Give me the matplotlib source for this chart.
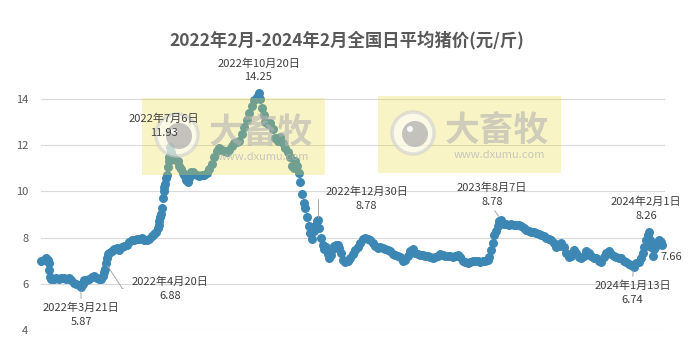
import pandas as pd
import matplotlib.pyplot as plt
from matplotlib.patches import Rectangle, Circle
from matplotlib.transforms import Affine2D

# === Schrift ===
plt.rcParams['font.family'] = ['Noto Sans CJK SC', 'DejaVu Sans']

# === Daten (Tage ab 2022-02-01, Preis in 元/斤) ===
start = pd.Timestamp('2022-02-01')
days = [0, 3, 6, 8, 9, 10, 11, 12, 15, 18, 21, 24, 27, 30, 33, 36, 39, 42, 45, 48,
        50, 52, 55, 58, 61, 64, 67, 70, 72, 74, 76, 77, 78, 79, 80, 82, 85, 88, 91, 94,
        97, 100, 103, 106, 109, 112, 115, 118, 121, 124, 127, 130, 133, 136, 138, 140,
        141, 142, 143, 144, 145, 146, 147, 148, 149, 150, 151, 152, 153, 154, 155, 156,
        158, 160, 162, 164, 166, 168, 170, 172, 174, 176, 178, 180, 182, 184, 187, 190,
        193, 196, 199, 202, 205, 208, 211, 214, 217, 220, 223, 226, 229, 232, 235, 238,
        241, 244, 247, 250, 253, 256, 259, 261, 263, 265, 267, 269, 272, 275, 278, 281,
        284, 287, 290, 293, 296, 299, 301, 303, 305, 307, 309, 311, 313, 315, 317, 319,
        321, 323, 325, 327, 329, 331, 332, 334, 336, 338, 340, 342, 344, 346, 348, 350,
        352, 354, 356, 358, 360, 362, 365, 368, 371, 374, 377, 380, 383, 386, 389, 392,
        395, 398, 401, 404, 407, 410, 413, 416, 419, 422, 425, 428, 431, 434, 437, 440,
        443, 446, 449, 452, 455, 458, 461, 464, 467, 470, 473, 476, 479, 482, 485, 488,
        491, 494, 497, 500, 503, 506, 509, 512, 515, 518, 521, 524, 527, 530, 533, 536,
        538, 540, 542, 544, 546, 548, 549, 550, 552, 555, 558, 561, 564, 567, 570, 573,
        576, 579, 582, 585, 588, 591, 594, 597, 600, 603, 606, 609, 612, 615, 618, 621,
        624, 627, 630, 633, 636, 639, 642, 645, 648, 651, 654, 657, 660, 663, 666, 669,
        672, 675, 678, 681, 684, 687, 690, 693, 696, 699, 702, 705, 708, 711, 714, 717,
        720, 722, 724, 726, 728, 730, 731, 732, 734, 736, 738, 740, 742, 744, 745]
prices = [7.0, 7.05, 7.1, 7.05, 6.9, 6.6, 6.3, 6.2, 6.2, 6.25, 6.2, 6.25, 6.25, 6.2, 6.25, 6.15, 6.05, 6.0, 5.95, 5.87,
          6.0, 6.15, 6.15, 6.2, 6.3, 6.35, 6.25, 6.2, 6.2, 6.35, 6.5, 6.65, 6.88, 7.1, 7.3, 7.35, 7.4, 7.5, 7.55, 7.45,
          7.6, 7.65, 7.7, 7.8, 7.9, 7.9, 7.95, 7.95, 8.0, 7.9, 7.9, 7.95, 8.05, 8.15, 8.25, 8.4,
          8.55, 8.7, 8.9, 9.0, 9.3, 9.7, 10.0, 10.2, 10.3, 10.6, 10.7, 11.05, 11.3, 11.5, 11.93, 11.7,
          11.5, 11.4, 11.35, 11.3, 11.1, 10.95, 10.8, 10.7, 10.5, 10.4, 10.6, 10.85, 10.85, 10.75, 10.7, 10.65,
          10.7, 10.7, 10.8, 10.95, 11.2, 11.5, 11.75, 11.9, 11.8, 11.75, 11.7, 11.8, 11.95, 12.1, 12.15, 12.2,
          12.5, 12.8, 13.1, 13.4, 13.7, 13.95, 14.1, 14.25, 14.0, 13.6, 13.3, 13.0, 12.9, 12.95, 12.7, 12.3,
          12.2, 12.35, 12.1, 11.9, 11.7, 11.5, 11.1, 11.0, 11.3, 11.1, 10.8, 10.4, 9.9, 9.5, 9.3, 8.9,
          8.5, 8.2, 7.95, 8.3, 8.5, 8.7, 8.78, 8.4, 8.0, 7.7, 7.5, 7.6, 7.3, 7.1, 7.25, 7.5,
          7.65, 7.7, 7.7, 7.55, 7.35, 7.05, 6.95, 7.0, 7.1, 7.3, 7.45, 7.6, 7.75, 7.95, 8.0, 7.95,
          7.9, 7.75, 7.65, 7.55, 7.6, 7.55, 7.5, 7.45, 7.4, 7.3, 7.25, 7.2, 7.15, 6.97, 7.05, 7.2,
          7.4, 7.5, 7.35, 7.3, 7.25, 7.25, 7.2, 7.2, 7.15, 7.1, 7.15, 7.2, 7.3, 7.25, 7.2, 7.2,
          7.2, 7.15, 7.2, 7.25, 7.15, 7.0, 6.95, 6.9, 6.95, 7.0, 7.0, 7.0, 6.95, 7.0, 7.0, 7.05,
          7.15, 7.45, 7.75, 8.1, 8.3, 8.5, 8.65, 8.7, 8.78, 8.6, 8.6, 8.55, 8.6, 8.55, 8.55, 8.55,
          8.5, 8.4, 8.35, 8.3, 8.25, 8.25, 8.2, 8.15, 8.1, 8.05, 8.0, 7.95, 7.9, 7.75, 7.6, 7.65,
          7.75, 7.6, 7.35, 7.15, 7.2, 7.45, 7.35, 7.15, 7.1, 7.2, 7.4, 7.35, 7.2, 7.1, 7.1, 7.0,
          6.95, 7.15, 7.35, 7.4, 7.3, 7.2, 7.15, 7.1, 7.1, 7.0, 6.95, 6.85, 6.8, 6.74, 6.9, 6.95,
          7.1, 7.35, 7.6, 7.9, 8.1, 8.26, 7.9, 7.6, 7.2, 7.5, 7.65, 7.8, 7.9, 7.8, 7.66]

yticks = [4, 6, 8, 10, 12, 14]
title = '2022年2月-2024年2月全国日平均猪价(元/斤)'

# Beschriftete Tage + Versatz der Beschriftung (Pixel)
label_days = [48, 78, 155, 261, 332, 552, 711, 730, 745]
label_offsets = [(0, -28), (64, -25), (-6, 21), (0, 23), (49, 21), (-9, 25), (-1, -26), (-3, 23), (10, -12)]

W, H = 693, 361
fig = plt.figure(figsize=(W / 100, H / 100), dpi=100)

y_top_px = 330 - 11 * 23.1
ax = fig.add_axes([41 / W, (H - 330) / H, 624 / W, (330 - y_top_px) / H])

dates = start + pd.to_timedelta(days, unit='D')
ax.scatter(dates, prices, s=42, color='#3d87b4', linewidths=0, zorder=3, clip_on=False)

ax.set_ylim(4, 15)
ax.set_yticks(yticks)
ax.set_xlim(start, start + pd.Timedelta(days=748.8))
ax.set_xticks([])
ax.grid(axis='y', color='#d9d9d9', lw=0.8)
ax.set_axisbelow(True)
for s in ax.spines.values():
    s.set_visible(False)
ax.tick_params(axis='y', length=0, pad=9, labelsize=8, labelcolor='#595959')

# === Wasserzeichen (Pixelkoordinaten, über den Punkten, unter den Beschriftungen) ===
px = Affine2D().scale(1 / W, -1 / H).translate(0, 1) + fig.transFigure


def watermark(x0, y0):
    ax.add_patch(Rectangle((x0, y0), 183, 77, facecolor=(0.92, 0.86, 0.25), alpha=0.3, lw=0,
                           transform=px, clip_on=False, zorder=3.5))
    cx, cy = x0 + 35, y0 + 37
    ax.add_patch(Circle((cx, cy), 21, facecolor='white', edgecolor='#cfcfcf', lw=2.5, alpha=0.6,
                        transform=px, clip_on=False, zorder=3.5))
    ax.add_patch(Circle((cx + 2, cy + 1), 13, facecolor='#b0b0b0', lw=0, alpha=0.75,
                        transform=px, clip_on=False, zorder=3.5))
    ax.add_patch(Circle((cx - 3, cy - 4), 3, facecolor='white', lw=0, alpha=0.9,
                        transform=px, clip_on=False, zorder=3.5))
    ax.text(x0 + 119, y0 + 34, '大畜牧', fontsize=25, fontweight='bold', color='#b4b4b4',
            alpha=0.6, ha='center', va='center', transform=px, zorder=3.5)
    ax.text(x0 + 121, y0 + 59, 'www.dxumu.com', fontsize=8, color='#b4b4b4',
            alpha=0.7, ha='center', va='center', transform=px, zorder=3.5)


watermark(142, 98)
watermark(378, 96)

# === Beschriftungen ===
lc = '#a6a6a6'
for d, (dx, dy) in zip(label_days, label_offsets):
    i = days.index(d)
    dt = start + pd.Timedelta(days=d)
    v = prices[i]
    if d == days[-1]:
        txt = f'{v:.2f}'
    else:
        txt = f'{dt.year}年{dt.month}月{dt.day}日\n{v:.2f}'
    arrow = None
    if d in (48, 711):
        arrow = dict(arrowstyle='-', color=lc, lw=0.7, relpos=(0.5, 1), shrinkA=1, shrinkB=3)
    elif d == 78:
        arrow = dict(arrowstyle='-', color=lc, lw=0.7, relpos=(0, 0.5), shrinkA=4, shrinkB=2,
                     connectionstyle='angle,angleA=0,angleB=-57,rad=0')
    elif d == 332:
        arrow = dict(arrowstyle='-', color=lc, lw=0.7, relpos=(0, 0.5), shrinkA=3, shrinkB=2,
                     connectionstyle='angle,angleA=0,angleB=90,rad=0')
    elif d == 552:
        arrow = dict(arrowstyle='-', color=lc, lw=0.7, relpos=(0.5, 0), shrinkA=1, shrinkB=3)
    ax.annotate(txt, xy=(dt, v), xytext=(dx, dy), textcoords='offset pixels',
                ha='center', va='center', fontsize=8, color='#404040', linespacing=1.5,
                annotation_clip=False, arrowprops=arrow, zorder=5)

fig.text(0.5, 1 - 40 / H, title, ha='center', va='center', fontsize=12.5,
         fontweight='bold', color='#595959')

fig.savefig('out.png', dpi=100)
